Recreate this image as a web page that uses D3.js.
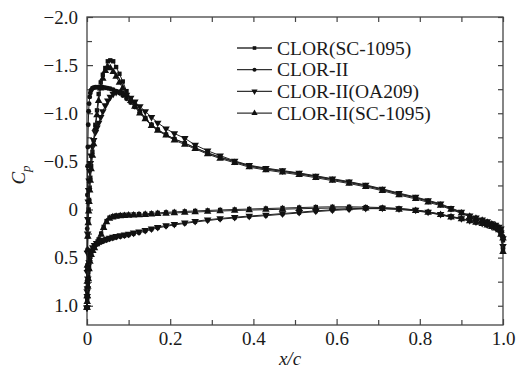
<!DOCTYPE html>
<html>
<head>
<meta charset="utf-8">
<script src="https://cdn.jsdelivr.net/npm/d3@7"></script>
<style>
  body { margin: 0; background: #fff; }
  text { font-family: "Liberation Serif", "Times New Roman", serif; fill: #1a1a1a; }
</style>
</head>
<body>
<div class="chart"></div>
<script>
// chord stations, upper surface (LE -> TE)
var xUpper = [0, 0.0003, 0.0006, 0.001, 0.0015, 0.002, 0.003, 0.004, 0.005, 0.0065,
	0.008, 0.01, 0.013, 0.016, 0.02, 0.024, 0.028, 0.033, 0.038, 0.044,
	0.05, 0.056, 0.063, 0.07, 0.078, 0.086, 0.095, 0.105, 0.115, 0.127,
	0.14, 0.155, 0.17, 0.19, 0.21, 0.235, 0.26, 0.29, 0.32, 0.355,
	0.39, 0.43, 0.47, 0.51, 0.55, 0.59, 0.63, 0.67, 0.71, 0.75,
	0.79, 0.82, 0.85, 0.875, 0.9, 0.92, 0.935, 0.95, 0.962, 0.973,
	0.982, 0.99, 0.995, 1.0];

// chord stations, lower surface (LE -> TE)
var xLower = [0, 0.0005, 0.001, 0.002, 0.003, 0.005, 0.007, 0.01, 0.014, 0.018,
	0.023, 0.028, 0.034, 0.04, 0.047, 0.054, 0.062, 0.07, 0.08, 0.09,
	0.1, 0.112, 0.125, 0.14, 0.155, 0.17, 0.19, 0.21, 0.235, 0.26,
	0.29, 0.32, 0.355, 0.39, 0.43, 0.47, 0.51, 0.55, 0.59, 0.63,
	0.67, 0.71, 0.75, 0.79, 0.82, 0.85, 0.875, 0.9, 0.92, 0.935,
	0.95, 0.962, 0.973, 0.982, 0.99, 0.995, 1.0];

var seriesNames = ["CLOR(SC-1095)", "CLOR-II", "CLOR-II(OA209)", "CLOR-II(SC-1095)"];
var seriesSymbols = ["square", "circle", "down", "up"];

var cpUpperSC1095 = [1.02, 0.9, 0.75, 0.58, 0.42, 0.28, 0.12, 0.0, -0.1, -0.22,
	-0.33, -0.45, -0.6, -0.72, -0.88, -1.03, -1.2, -1.32, -1.4, -1.47,
	-1.54, -1.55, -1.54, -1.48, -1.41, -1.33, -1.23, -1.15, -1.09, -1.02,
	-0.95, -0.88, -0.83, -0.78, -0.73, -0.69, -0.64, -0.585, -0.54, -0.495,
	-0.45, -0.42, -0.395, -0.37, -0.34, -0.31, -0.28, -0.245, -0.205, -0.16,
	-0.12, -0.085, -0.05, -0.005, 0.035, 0.075, 0.095, 0.115, 0.135, 0.155,
	0.17, 0.19, 0.22, 0.32];
var cpLowerSC1095 = [1.02, 0.95, 0.88, 0.78, 0.7, 0.6, 0.52, 0.46, 0.42, 0.39,
	0.35, 0.31, 0.25, 0.18, 0.12, 0.085, 0.07, 0.062, 0.058, 0.055,
	0.053, 0.05, 0.048, 0.045, 0.04, 0.035, 0.03, 0.025, 0.02, 0.015,
	0.01, 0.005, 0.0, -0.005, -0.01, -0.015, -0.02, -0.025, -0.028, -0.028,
	-0.025, -0.02, -0.01, 0.005, 0.025, 0.05, 0.075, 0.095, 0.115, 0.13,
	0.145, 0.16, 0.175, 0.19, 0.21, 0.25, 0.42];

var cpUpperII = [1.02, 0.6, 0.2, -0.15, -0.45, -0.65, -0.88, -1.02, -1.1, -1.17,
	-1.21, -1.24, -1.26, -1.265, -1.27, -1.27, -1.27, -1.27, -1.27, -1.265,
	-1.26, -1.255, -1.245, -1.23, -1.21, -1.185, -1.15, -1.11, -1.065, -1.01,
	-0.95, -0.88, -0.83, -0.775, -0.735, -0.69, -0.64, -0.59, -0.545, -0.5,
	-0.455, -0.425, -0.4, -0.375, -0.345, -0.315, -0.285, -0.25, -0.21, -0.165,
	-0.125, -0.09, -0.055, -0.01, 0.03, 0.07, 0.09, 0.11, 0.13, 0.15,
	0.165, 0.185, 0.21, 0.28];
var cpLowerII = [1.02, 0.92, 0.84, 0.74, 0.66, 0.57, 0.5, 0.44, 0.41, 0.385,
	0.365, 0.35, 0.34, 0.33, 0.32, 0.31, 0.3, 0.292, 0.284, 0.276,
	0.268, 0.255, 0.242, 0.225, 0.208, 0.192, 0.175, 0.16, 0.145, 0.13,
	0.115, 0.1, 0.088, 0.076, 0.064, 0.05, 0.036, 0.022, 0.01, 0.0,
	-0.008, -0.01, -0.005, 0.008, 0.028, 0.052, 0.075, 0.095, 0.115, 0.13,
	0.145, 0.16, 0.175, 0.19, 0.21, 0.25, 0.4];

var cpUpperOA209 = [1.02, 0.85, 0.65, 0.45, 0.25, 0.1, -0.08, -0.2, -0.3, -0.4,
	-0.48, -0.56, -0.65, -0.72, -0.8, -0.85, -0.9, -0.96, -1.02, -1.08,
	-1.13, -1.17, -1.2, -1.22, -1.225, -1.21, -1.19, -1.16, -1.12, -1.07,
	-1.02, -0.96, -0.9, -0.84, -0.79, -0.74, -0.67, -0.61, -0.56, -0.505,
	-0.46, -0.43, -0.405, -0.38, -0.35, -0.32, -0.29, -0.255, -0.215, -0.17,
	-0.13, -0.095, -0.06, -0.015, 0.025, 0.065, 0.085, 0.105, 0.125, 0.145,
	0.16, 0.18, 0.2, 0.3];
var cpLowerOA209 = [1.02, 0.9, 0.82, 0.72, 0.64, 0.55, 0.48, 0.43, 0.395, 0.37,
	0.35, 0.335, 0.325, 0.315, 0.305, 0.295, 0.286, 0.278, 0.27, 0.262,
	0.254, 0.242, 0.23, 0.214, 0.198, 0.183, 0.166, 0.152, 0.137, 0.122,
	0.107, 0.093, 0.08, 0.068, 0.056, 0.042, 0.028, 0.014, 0.003, -0.007,
	-0.014, -0.016, -0.01, 0.004, 0.024, 0.048, 0.072, 0.092, 0.112, 0.127,
	0.142, 0.157, 0.172, 0.187, 0.205, 0.24, 0.38];

var cpUpperIISC1095 = [1.02, 0.9, 0.75, 0.58, 0.42, 0.28, 0.14, 0.02, -0.08, -0.2,
	-0.3, -0.42, -0.56, -0.68, -0.84, -0.98, -1.13, -1.26, -1.36, -1.44,
	-1.48, -1.47, -1.43, -1.38, -1.32, -1.26, -1.19, -1.13, -1.07, -1.0,
	-0.94, -0.87, -0.82, -0.77, -0.72, -0.675, -0.63, -0.575, -0.53, -0.485,
	-0.44, -0.41, -0.385, -0.36, -0.33, -0.3, -0.27, -0.235, -0.195, -0.15,
	-0.11, -0.075, -0.04, 0.0, 0.04, 0.075, 0.095, 0.115, 0.135, 0.155,
	0.17, 0.19, 0.22, 0.3];
var cpLowerIISC1095 = [1.02, 0.96, 0.9, 0.8, 0.72, 0.62, 0.54, 0.47, 0.43, 0.4,
	0.36, 0.32, 0.26, 0.19, 0.13, 0.095, 0.08, 0.073, 0.068, 0.065,
	0.062, 0.06, 0.057, 0.054, 0.05, 0.046, 0.041, 0.036, 0.031, 0.026,
	0.021, 0.016, 0.011, 0.006, 0.002, -0.003, -0.008, -0.012, -0.015, -0.015,
	-0.012, -0.008, 0.0, 0.014, 0.032, 0.056, 0.08, 0.1, 0.12, 0.135,
	0.15, 0.165, 0.18, 0.195, 0.215, 0.26, 0.44];

var cpUpper = [cpUpperSC1095, cpUpperII, cpUpperOA209, cpUpperIISC1095];
var cpLower = [cpLowerSC1095, cpLowerII, cpLowerOA209, cpLowerIISC1095];

var yTickValues = [-2.0, -1.5, -1.0, -0.5, 0, 0.5, 1.0];
var yTickLabels = ["\u22122.0", "\u22121.5", "\u22121.0", "\u22120.5", "0", "0.5", "1.0"];
var xTickValues = [0, 0.2, 0.4, 0.6, 0.8, 1.0];
var xTickLabels = ["0", "0.2", "0.4", "0.6", "0.8", "1.0"];
var xMinorTicks = [0.1, 0.3, 0.5, 0.7, 0.9];
var yMinorTicks = [-1.75, -1.25, -0.75, -0.25, 0.25, 0.75];

var svg = d3.select(".chart").append("svg").attr("width", 522).attr("height", 372);
var margin = {top: 17, right: 19, bottom: 47, left: 87};
var width = 522 - margin.left - margin.right;
var height = 372 - margin.top - margin.bottom;
var g = svg.append("g").attr("transform", "translate(" + margin.left + "," + margin.top + ")");

var x = d3.scaleLinear().domain([0, 1.0]).range([0, width]);
var y = d3.scaleLinear().domain([-2.0, 1.2]).range([0, height]);

var axisColor = "#444";

function styleAxis(sel) {
	sel.select(".domain").remove();
	sel.selectAll(".tick line").attr("stroke", axisColor).attr("stroke-width", 1.2);
	sel.selectAll(".tick text").attr("font-size", 19).attr("fill", "#1a1a1a")
		.attr("font-family", "Liberation Serif, serif");
}

// major ticks with labels
g.append("g").attr("transform", "translate(0," + height + ")")
	.call(d3.axisBottom(x).tickValues(xTickValues).tickSizeInner(-6).tickSizeOuter(0).tickPadding(7)
		.tickFormat(function(d, i) { return xTickLabels[i]; }))
	.call(styleAxis);
g.append("g")
	.call(d3.axisLeft(y).tickValues(yTickValues).tickSizeInner(-6).tickSizeOuter(0).tickPadding(9)
		.tickFormat(function(d, i) { return yTickLabels[i]; }))
	.call(styleAxis);
// top / right ticks, no labels
g.append("g")
	.call(d3.axisTop(x).tickValues(xTickValues.concat(xMinorTicks)).tickSizeInner(-5).tickSizeOuter(0).tickFormat(""))
	.call(styleAxis);
g.append("g").attr("transform", "translate(" + width + ",0)")
	.call(d3.axisRight(y).tickValues(yTickValues.concat(yMinorTicks)).tickSizeInner(-5).tickSizeOuter(0).tickFormat(""))
	.call(styleAxis);
// minor ticks
g.append("g").attr("transform", "translate(0," + height + ")")
	.call(d3.axisBottom(x).tickValues(xMinorTicks).tickSizeInner(-5).tickSizeOuter(0).tickFormat(""))
	.call(styleAxis);
g.append("g")
	.call(d3.axisLeft(y).tickValues(yMinorTicks).tickSizeInner(-5).tickSizeOuter(0).tickFormat(""))
	.call(styleAxis);

g.append("rect").attr("width", width).attr("height", height)
	.attr("fill", "none").attr("stroke", axisColor).attr("stroke-width", 1.3);

function symbolPath(type, size) {
	if (type == "square") return d3.symbol().type(d3.symbolSquare).size(size)();
	if (type == "circle") return d3.symbol().type(d3.symbolCircle).size(size)();
	return d3.symbol().type(d3.symbolTriangle).size(size * 1.3)();
}

var line = d3.line()
	.x(function(d) { return x(d[0]); })
	.y(function(d) { return y(d[1]); });

var plot = g.append("g");

for (var s = 0; s < seriesNames.length; s++) {
	var pts = [];
	for (var i = xUpper.length - 1; i >= 0; i--) pts.push([xUpper[i], cpUpper[s][i]]);
	for (var j = 0; j < xLower.length; j++) pts.push([xLower[j], cpLower[s][j]]);

	plot.append("path").datum(pts)
		.attr("fill", "none").attr("stroke", "#222").attr("stroke-width", 1)
		.attr("d", line);

	var sym = seriesSymbols[s];
	plot.selectAll(".m" + s).data(pts).enter().append("path")
		.attr("class", "m" + s)
		.attr("d", symbolPath(sym, 19))
		.attr("fill", "#111")
		.attr("transform", function(d) {
			return "translate(" + x(d[0]) + "," + y(d[1]) + ")" + (sym == "down" ? " rotate(180)" : "");
		});
}

// legend
var legend = g.append("g").attr("transform", "translate(150,31)");
var rows = legend.selectAll(".row").data(seriesNames).enter().append("g")
	.attr("class", "row")
	.attr("transform", function(d, i) { return "translate(0," + (i * 21.7) + ")"; });
rows.append("line").attr("x1", 0).attr("x2", 35).attr("y1", 0).attr("y2", 0)
	.attr("stroke", "#333").attr("stroke-width", 1.3);
rows.append("path")
	.attr("d", function(d, i) { return symbolPath(seriesSymbols[i], 13); })
	.attr("fill", "#111")
	.attr("transform", function(d, i) { return "translate(17.5,0)" + (seriesSymbols[i] == "down" ? " rotate(180)" : ""); });
rows.append("text").attr("x", 40).attr("dy", "0.34em")
	.attr("font-size", 19.5)
	.text(function(d) { return d; });

// axis titles
svg.append("text").attr("x", margin.left + width / 2 - 5).attr("y", 365)
	.attr("text-anchor", "middle").attr("font-size", 19).attr("font-style", "italic")
	.text("x/c");

var yTitle = svg.append("text").attr("transform", "translate(25,175) rotate(-90)")
	.attr("text-anchor", "middle").attr("font-size", 19).attr("font-style", "italic");
yTitle.append("tspan").text("C");
yTitle.append("tspan").attr("font-size", 13).attr("dy", "0.35em").text("p");
</script>
</body>
</html>
